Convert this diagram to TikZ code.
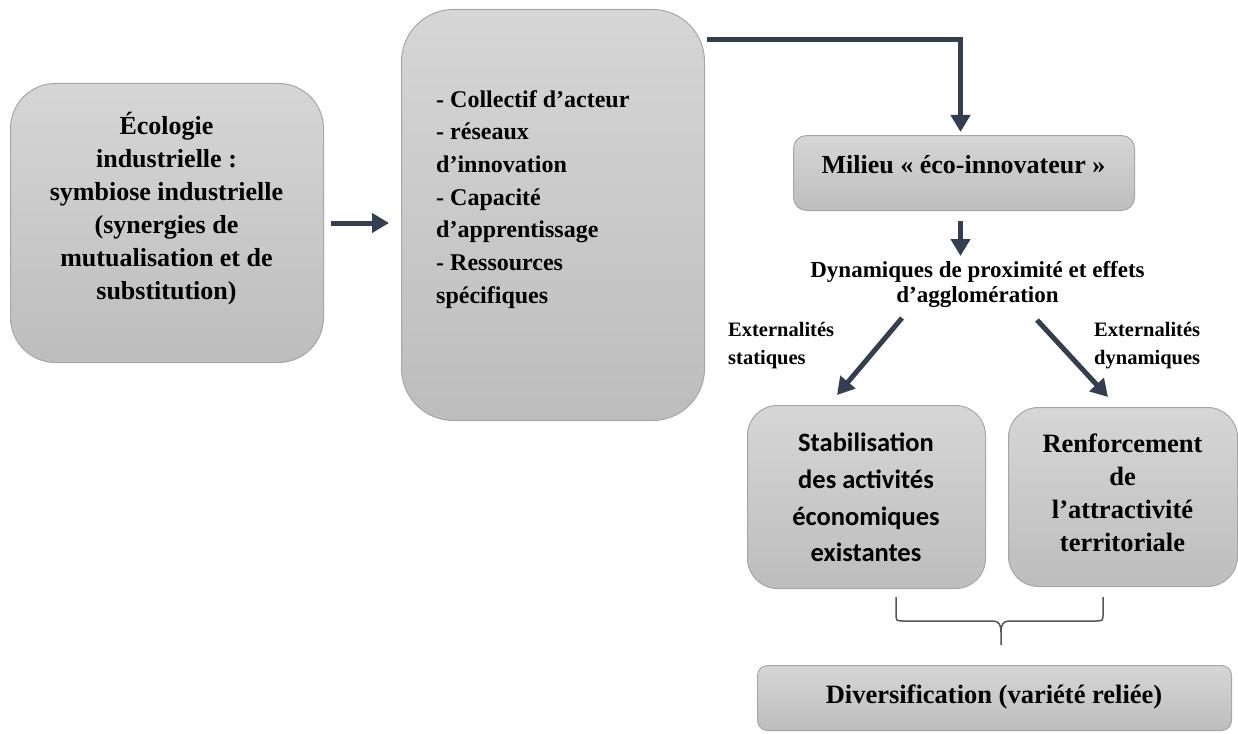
\documentclass[tikz,border=0pt]{standalone}
\usepackage{fontspec}
\setmainfont{Liberation Serif}
\newfontfamily\calibri{Carlito}
\usetikzlibrary{arrows.meta}
\definecolor{arrowc}{HTML}{333F50}
\definecolor{boxtop}{HTML}{D6D6D6}
\definecolor{boxbot}{HTML}{BDBDBD}
\definecolor{boxline}{HTML}{A6A6A6}
\definecolor{bracec}{HTML}{555555}
\tikzset{
  box/.style={draw=boxline, line width=1pt, top color=boxtop, bottom color=boxbot, anchor=north west, inner sep=0pt},
  arr/.style={draw=arrowc, line width=5pt, -{Triangle[width=19pt,length=17pt]}},
  txt/.style={inner sep=0pt, font=\bfseries},
}
\begin{document}
\begin{tikzpicture}[x=1pt,y=-1pt]
\path[use as bounding box] (0,0) rectangle (1238,733);
% boxes
\node[box, rounded corners=45pt, minimum width=313pt, minimum height=279pt] (eco) at (10,83) {};
\node[box, rounded corners=52pt, minimum width=303pt, minimum height=411pt] (col) at (401,9) {};
\node[box, rounded corners=13pt, minimum width=341pt, minimum height=75pt] (mil) at (793,135) {};
\node[box, rounded corners=30pt, minimum width=238pt, minimum height=183pt] (stab) at (747,405) {};
\node[box, rounded corners=30pt, minimum width=229pt, minimum height=179pt] (renf) at (1008,407) {};
\node[box, rounded corners=10pt, minimum width=474pt, minimum height=65pt] (div) at (757,665) {};
% texts
\node[txt, align=center, font=\bfseries\fontsize{26}{33}\selectfont] (ecot) at (166.5,209)
  {Écologie\\industrielle :\\symbiose industrielle\\(synergies de\\mutualisation et de\\substitution)};
\node[txt, align=left, anchor=north west, font=\bfseries\fontsize{24}{32.7}\selectfont] (colt) at (436,90)
  {- Collectif d’acteur\\- réseaux\\d’innovation\\- Capacité\\d’apprentissage\\- Ressources\\spécifiques};
\node[txt, anchor=base, font=\bfseries\fontsize{26}{31}\selectfont] (milt) at (963.5,173) {Milieu « éco-innovateur »};
\node[txt, align=center, anchor=north, font=\bfseries\fontsize{23}{25}\selectfont] (dyn) at (977.5,261)
  {Dynamiques de proximité et effets\\d’agglomération};
\node[txt, align=left, anchor=north west, font=\bfseries\fontsize{20.5}{28}\selectfont] (exts) at (728,322)
  {Externalités\\statiques};
\node[txt, align=left, anchor=north west, font=\bfseries\fontsize{20.5}{28}\selectfont] (extd) at (1094,322)
  {Externalités\\dynamiques};
\node[txt, align=center, anchor=north, font=\calibri\bfseries\fontsize{26.5}{36.7}\selectfont] (stabt) at (866,433)
  {Stabilisation\\des activités\\économiques\\existantes};
\node[txt, align=center, anchor=north, font=\bfseries\fontsize{26.5}{33}\selectfont] (renft) at (1122.5,434)
  {Renforcement\\de\\l’attractivité\\territoriale};
\node[txt, anchor=base, font=\bfseries\fontsize{26.5}{33}\selectfont] (divt) at (994,703) {Diversification (variété reliée)};
% connectors
\draw[arr] ([xshift=7pt]eco.east) -- ([xshift=-12pt]eco.east -| col.west);
\coordinate (c1) at (707,40);
\draw[arr, line cap=butt] (c1) -| ([xshift=-3.5pt, yshift=3pt]mil.north);
\draw[arr] ([xshift=-3.5pt, yshift=-10pt]mil.south) -- ([xshift=-3.5pt, yshift=-45pt]mil.south);
\coordinate (d1) at (902,318);
\coordinate (d2) at (837,395);
\coordinate (d3) at (1037,320);
\coordinate (d4) at (1108,397);
\draw[arr] (d1) -- (d2);
\draw[arr] (d3) -- (d4);
% brace
\coordinate (bl) at (896,597);
\coordinate (br) at (1103,597);
\coordinate (bt) at (1001,645);
\draw[bracec, line width=1.5pt]
  (bl) -- (896,613) .. controls (896,621) .. (904,621) -- (993,621)
  .. controls (999,621) and (1001,625) .. (1001,632) -- (bt);
\draw[bracec, line width=1.5pt]
  (br) -- (1103,613) .. controls (1103,621) .. (1095,621) -- (1009,621)
  .. controls (1003,621) and (1001,625) .. (1001,632);
\end{tikzpicture}
\end{document}
